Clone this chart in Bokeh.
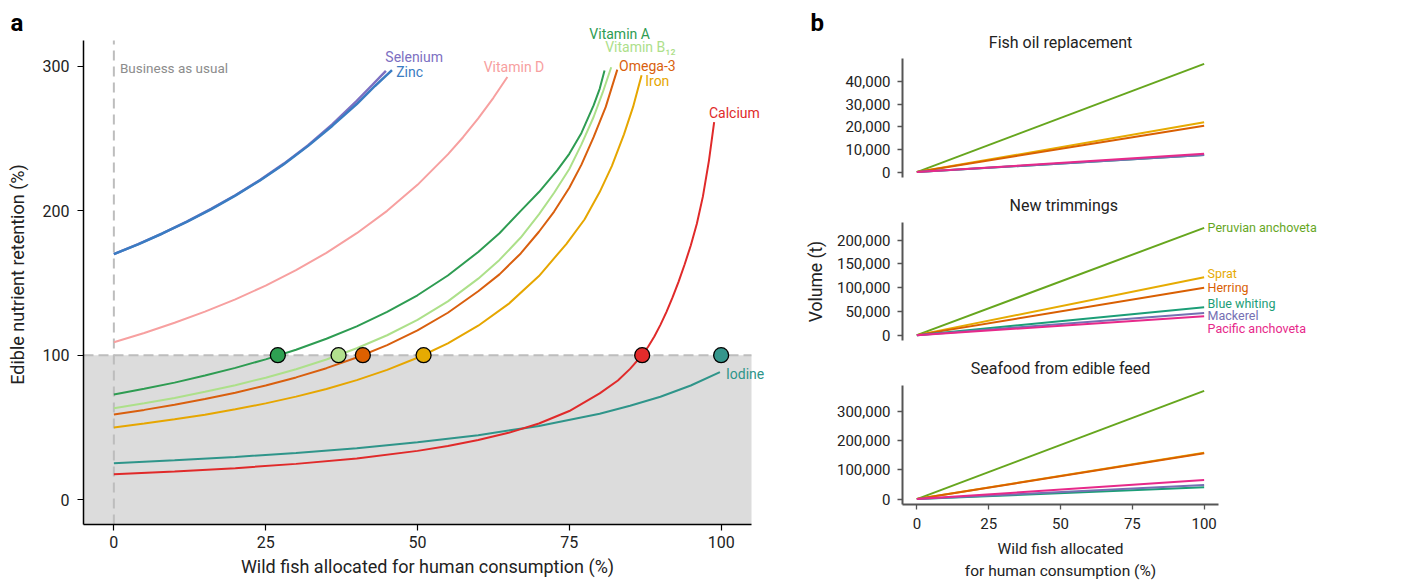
from bokeh.plotting import figure
from bokeh.models import (Range1d, BoxAnnotation, LabelSet, Label, Title,
                          ColumnDataSource, FixedTicker, NumeralTickFormatter)
from bokeh.layouts import row, column
from bokeh.embed import file_html
from bokeh.resources import INLINE
from bokeh.core.properties import value

FONT = "Roboto"

# ---------------- Panel a data ----------------
nutrients = ["Selenium", "Zinc", "Vitamin D", "Vitamin A", "Vitamin B\u2081\u2082",
             "Omega-3", "Iron", "Calcium", "Iodine"]
nutrient_colors = ["#7d70c2", "#3a7cc2", "#f7a0a0", "#2e9c52", "#ade08a",
                   "#d95f0e", "#e6a600", "#e02a2a", "#2f958a"]

selenium_x = [0, 4, 8, 12, 16, 20, 24, 28, 32, 36, 40, 42.5, 44.8]
selenium_y = [170, 176.9, 184.4, 192.5, 201.3, 210.8, 221.2, 232.7, 245.5, 260.0, 276.2,
              287.0, 297.0]
zinc_x = [0, 4, 8, 12, 16, 20, 24, 28, 32, 36, 40, 43, 45.8]
zinc_y = [170, 176.8, 184.3, 192.3, 201.0, 210.5, 220.9, 232.3, 245.0, 259.0, 274.0,
          286.5, 297.5]
vitd_x = [0, 5, 10, 15, 20, 25, 30, 35, 40, 45, 50, 55, 57.5, 60, 62.5, 64.8]
vitd_y = [109, 115.4, 122.5, 130.2, 138.7, 148.2, 158.9, 170.9, 184.5, 200.0, 218.0,
          239.1, 251.0, 264.0, 278.3, 292.7]
vita_x = [0, 5, 10, 15, 20, 25, 30, 35, 40, 45, 50, 55, 60, 63.5, 67, 70, 73, 75, 77,
          79, 80, 80.8]
vita_y = [72.8, 76.7, 81.0, 85.9, 91.2, 97.1, 103.8, 111.4, 120.0, 130.0, 141.5, 155.2,
          171.5, 184.5, 200.0, 213.0, 228.0, 239.5, 254.0, 273.0, 284.5, 297.3]
vitb12_x = [0, 5, 10, 15, 20, 25, 30, 35, 40, 45, 50, 55, 60, 63.5, 67, 70, 72.5, 75,
            77, 79, 80.5, 81.9]
vitb12_y = [63.3, 66.7, 70.4, 74.6, 79.2, 84.4, 90.3, 97.0, 104.8, 113.8, 124.5, 137.3,
            153.0, 166.0, 181.5, 197.5, 212.5, 229.0, 246.0, 265.0, 282.0, 299.5]
omega3_x = [0, 5, 10, 15, 20, 25, 30, 35, 40, 45, 50, 55, 60, 63.5, 67, 70, 72.5, 75,
            77, 79, 81, 82.9]
omega3_y = [58.9, 62.1, 65.7, 69.6, 74.0, 79.0, 84.6, 91.0, 98.4, 107.0, 117.2, 129.4,
            144.3, 156.0, 170.5, 185.5, 199.5, 216.0, 232.0, 251.0, 272.0, 297.8]
iron_x = [0, 5, 10, 15, 20, 25, 30, 35, 40, 45, 50, 55, 60, 65, 70, 74.5, 77.5, 80,
          82, 84, 85.5, 86.9]
iron_y = [49.9, 52.6, 55.6, 58.8, 62.5, 66.6, 71.3, 76.6, 82.7, 89.8, 98.2, 108.2, 120.4,
          135.5, 154.8, 177.0, 194.0, 213.0, 231.0, 253.0, 272.0, 294.0]
calcium_x = [0, 10, 20, 30, 40, 50, 55, 60, 65, 70, 75, 80, 83, 85, 87, 88, 89, 90, 91,
             92, 93, 94, 95, 96, 97, 98, 98.85]
calcium_y = [17.5, 19.4, 21.7, 24.7, 28.5, 33.7, 37.1, 41.2, 46.2, 52.7, 61.3, 73.5,
             82.5, 90.5, 100.0, 106.0, 113.0, 121.0, 130.0, 140.0, 151.0, 163.0, 176.0,
             191.0, 210.0, 235.0, 261.5]
iodine_x = [0, 10, 20, 30, 40, 50, 60, 70, 80, 85, 90, 95, 99.8]
iodine_y = [25.2, 27.2, 29.5, 32.3, 35.6, 39.6, 44.6, 51.0, 59.4, 65.0, 71.2, 79.0, 88.2]

curves_x = [selenium_x, zinc_x, vitd_x, vita_x, vitb12_x, omega3_x, iron_x, calcium_x, iodine_x]
curves_y = [selenium_y, zinc_y, vitd_y, vita_y, vitb12_y, omega3_y, iron_y, calcium_y, iodine_y]
line_widths = [2.5, 2.5, 2, 2, 2, 2, 2, 2, 2]

# where each nutrient reaches 100 % retention
threshold_x = [27, 37, 41, 51, 87, 100]
threshold_y = [100, 100, 100, 100, 100, 100]
threshold_colors = ["#2ea052", "#b2e08e", "#de6000", "#e6ab02", "#e32b2b", "#35968c"]

# label anchor positions (data units)
label_x = [44.7, 46.5, 60.9, 78.3, 80.9, 83.2, 87.5, 98.0, 100.8]
label_y = [306.5, 296.1, 299.6, 322.7, 313.4, 300.1, 289.9, 267.7, 87.1]

x_ticks_a = [0, 25, 50, 75, 100]
y_ticks_a = [0, 100, 200, 300]
x_lo_a, x_hi_a = -5, 105
y_lo_a, y_hi_a = -17.3, 318

# ---------------- Panel b data ----------------
species = ["Peruvian anchoveta", "Sprat", "Herring", "Blue whiting", "Mackerel",
           "Pacific anchoveta"]
species_colors = ["#66a61e", "#e6ab02", "#d95f02", "#1b9e77", "#7570b3", "#e7298a"]
allocation = [0, 100]
fish_oil_start = [0, 0, 0, 0, 0, 0]
fish_oil_end = [47800, 22000, 20500, 7600, 7500, 8100]
trimmings_start = [0, 0, 0, 0, 0, 0]
trimmings_end = [226000, 122000, 99700, 59000, 46700, 39700]
edible_start = [0, 0, 0, 0, 0, 0]
edible_end = [369000, 158000, 156000, 40000, 48000, 65000]
species_label_y = [227400, 130500, 99700, 67300, 41400, 13400]

panels_b = [
    ("Fish oil replacement", fish_oil_start, fish_oil_end, [0, 10000, 20000, 30000, 40000]),
    ("New trimmings", trimmings_start, trimmings_end, [0, 50000, 100000, 150000, 200000]),
    ("Seafood from edible feed", edible_start, edible_end, [0, 100000, 200000, 300000]),
]
x_ticks_b = [0, 25, 50, 75, 100]

# ---------------- Panel a ----------------
# frame is widened (right) and heightened (top) so that labels are not clipped;
# the axes themselves are bounded to the data ranges.
px_x = 668 / (x_hi_a - x_lo_a)
px_y = 484 / (y_hi_a - y_lo_a)
pa = figure(frame_width=688, frame_height=500, min_border_left=83, min_border_right=29,
            min_border_top=24, min_border_bottom=56,
            x_range=Range1d(x_lo_a, x_hi_a + 20 / px_x),
            y_range=Range1d(y_lo_a, y_hi_a + 16 / px_y),
            output_backend="svg", toolbar_location=None)
pa.outline_line_color = None
pa.grid.visible = False
pa.background_fill_color = "white"
pa.border_fill_color = "white"

pa.add_layout(BoxAnnotation(left=x_lo_a, right=x_hi_a, top=100, fill_color="#dcdcdc",
                            fill_alpha=1.0, line_color=None, level="underlay"))
pa.segment(x0=[x_lo_a], y0=[100], x1=[x_hi_a], y1=[100], line_color="#bdbdbd",
           line_width=2, line_dash="10 5")
pa.segment(x0=[0], y0=[y_lo_a], x1=[0], y1=[y_hi_a], line_color="#bdbdbd",
           line_width=2, line_dash="10 6")

order = [8, 7, 6, 5, 4, 3, 2, 0, 1]
for i in order:
    pa.line(curves_x[i], curves_y[i], line_color=nutrient_colors[i],
            line_width=line_widths[i])

pa.scatter(x=threshold_x, y=threshold_y, size=15, fill_color=threshold_colors,
           line_color="black", line_width=1.3)

lab_src = ColumnDataSource(dict(x=label_x, y=label_y, text=nutrients, color=nutrient_colors))
pa.add_layout(LabelSet(x="x", y="y", text="text", source=lab_src, text_color="color",
                       text_font=value(FONT), text_font_size="14px",
                       text_baseline="middle", text_align="left"))
pa.add_layout(Label(x=1.0, y=298.7, text="Business as usual", text_color="#8c8c8c",
                    text_font=FONT, text_font_size="13.5px",
                    text_baseline="middle", text_align="left"))
pa.add_layout(Title(text="a", align="left", offset=-73, standoff=-25, text_font=FONT,
                    text_font_size="24px", text_font_style="bold", text_color="black"),
              "above")

for ax in [pa.xaxis[0], pa.yaxis[0]]:
    ax.axis_line_color = "black"
    ax.axis_line_width = 1.5
    ax.major_tick_line_color = "black"
    ax.major_tick_line_width = 1.2
    ax.major_tick_out = 6
    ax.major_tick_in = 0
    ax.minor_tick_line_color = None
    ax.major_label_text_font = FONT
    ax.major_label_text_font_size = "16px"
    ax.major_label_text_color = "#222222"
    ax.axis_label_text_font = FONT
    ax.axis_label_text_font_size = "18px"
    ax.axis_label_text_font_style = "normal"
    ax.axis_label_text_color = "#222222"
pa.xaxis.bounds = (x_lo_a, x_hi_a)
pa.yaxis.bounds = (y_lo_a, y_hi_a)
pa.xaxis.ticker = FixedTicker(ticks=x_ticks_a)
pa.yaxis.ticker = FixedTicker(ticks=y_ticks_a)
pa.xaxis.axis_label = "Wild fish allocated for human consumption (%)"
pa.yaxis.axis_label = "Edible nutrient retention (%)"
pa.xaxis.major_label_standoff = 5
pa.xaxis.axis_label_standoff = 5
pa.yaxis.major_label_standoff = 8
pa.yaxis.axis_label_standoff = 12

# ---------------- Panel b ----------------
figs_b = []
tops = [58, 36, 36]
bottoms = [9, 9, 76]
heights = [119, 118, 119]
title_standoffs = [13, 15.2, 15.2]
px_b = 316 / 110.0
for k, (title, starts, ends, yt) in enumerate(panels_b):
    m = max(ends)
    fw = 426 if k == 1 else 316
    p = figure(frame_width=fw, frame_height=heights[k], min_border_left=102,
               min_border_right=611 - 102 - fw,
               min_border_top=tops[k], min_border_bottom=bottoms[k],
               x_range=Range1d(-5, -5 + fw / px_b), y_range=Range1d(-0.05 * m, 1.05 * m),
               output_backend="svg", toolbar_location=None)
    p.outline_line_color = None
    p.grid.visible = False
    if k == 0:
        # panel letter is the outer title, subplot title sits next to the frame
        p.title.text = "b"
        p.title.align = "left"
        p.title.offset = -92
        p.title.standoff = -24
        p.title.text_font = FONT
        p.title.text_font_size = "24px"
        p.title.text_font_style = "bold"
        p.title.text_color = "black"
        p.add_layout(Title(text=title, align="center", standoff=title_standoffs[k],
                           text_font=FONT, text_font_size="16px",
                           text_font_style="normal", text_color="#222222"), "above")
    else:
        p.title.text = title
        if k == 1:
            p.title.align = "left"
            p.title.offset = 107
        else:
            p.title.align = "center"
        p.title.text_font = FONT
        p.title.text_font_size = "16px"
        p.title.text_font_style = "normal"
        p.title.text_color = "#222222"
        p.title.standoff = title_standoffs[k]
    for j in range(len(species)):
        p.line(allocation, [starts[j], ends[j]], line_color=species_colors[j], line_width=2)
    ax = p.yaxis[0]
    ax.ticker = FixedTicker(ticks=yt)
    ax.formatter = NumeralTickFormatter(format="0,0")
    axes = [ax]
    if k == 2:
        axes.append(p.xaxis[0])
        p.xaxis.ticker = FixedTicker(ticks=x_ticks_b)
        p.xaxis.axis_label = "Wild fish allocated\nfor human consumption (%)"
        p.xaxis.major_label_standoff = 8
        p.xaxis.axis_label_standoff = 8
    else:
        p.xaxis.visible = False
    if k == 1:
        p.yaxis.axis_label = "Volume (t)"
        p.yaxis.axis_label_standoff = 8
        src = ColumnDataSource(dict(x=[101.2] * len(species), y=species_label_y,
                                    text=species, color=species_colors))
        p.add_layout(LabelSet(x="x", y="y", text="text", source=src, text_color="color",
                              text_font=value(FONT), text_font_size="12.5px",
                              text_baseline="middle", text_align="left"))
    for a in axes:
        a.axis_line_color = "#555555"
        a.axis_line_width = 2
        a.major_tick_line_color = "#555555"
        a.major_tick_line_width = 1.3
        a.major_tick_out = 5
        a.major_tick_in = 0
        a.minor_tick_line_color = None
        a.major_label_text_font = FONT
        a.major_label_text_font_size = "15px"
        a.major_label_text_color = "#222222"
        a.axis_label_text_font = FONT
        a.axis_label_text_font_style = "normal"
        a.axis_label_text_color = "#222222"
    p.yaxis.axis_label_text_font_size = "17.5px"
    if k == 2:
        p.xaxis.axis_label_text_font_size = "15.5px"
        p.xaxis.axis_label_text_line_height = 1.25
    p.yaxis.major_label_standoff = 7
    figs_b.append(p)

layout = row(pa, column(*figs_b))
open("out.html", "w").write(file_html(layout, INLINE))
